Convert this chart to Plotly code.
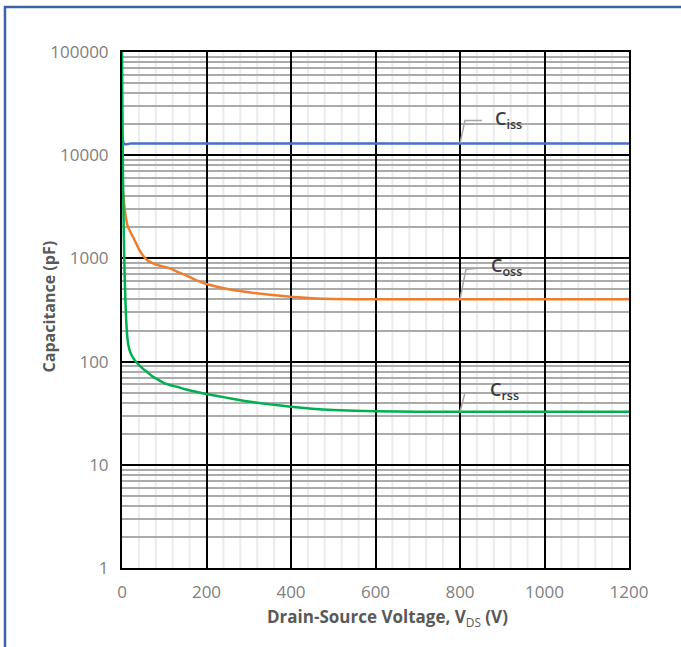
import math
import plotly.graph_objects as go

# Drain-source voltage (V) sample points
vds = [0, 2, 4, 6, 8, 10, 12, 15, 20, 30, 40, 50, 60, 70, 85, 100, 115, 130, 150,
       175, 200, 250, 300, 350, 400, 450, 500, 600, 700, 800, 900, 1000, 1100, 1200]

# Capacitances (pF)
ciss = [16000, 14000, 13000, 12800, 12750, 12750, 12800, 12850, 12950, 13000, 13000,
        13000, 13000, 13000, 13000, 13000, 13000, 13000, 13000, 13000, 13000, 13000,
        13000, 13000, 13000, 13000, 13000, 13000, 13000, 13000, 13000, 13000, 13000, 13000]
coss = [6000, 4600, 3700, 3100, 2700, 2400, 2150, 1980, 1800, 1500, 1230, 1060, 960,
        910, 860, 830, 795, 745, 690, 615, 565, 505, 470, 445, 425, 412, 405, 402,
        402, 402, 402, 402, 402, 402]
crss = [100000, 8000, 2000, 750, 400, 250, 185, 145, 122, 103, 93, 85, 79, 73, 67, 62,
        59, 57, 54, 51, 48.5, 44.5, 41, 38.5, 36.5, 35, 34, 33, 32.7, 32.7, 32.7, 32.7,
        32.7, 32.7]

x_ticks = [0, 200, 400, 600, 800, 1000, 1200]
y_ticks = [1, 10, 100, 1000, 10000, 100000]
y_tick_text = ["1", "10", "100", "1000", "10000", "100000"]

label_v = 800  # voltage where the series labels are attached

series = [
    ("C<sub>iss</sub>", ciss, "#4472C4", (48, 24), "M0,0 L5,23 L22,23"),
    ("C<sub>oss</sub>", coss, "#ED7D31", (46, 33), "M0,0 L6,30 L18,31"),
    ("C<sub>rss</sub>", crss, "#00B050", (44, 21), "M0,0 L5,19 L17,19"),
]

FONT = "Open Sans"

fig = go.Figure()

for name, vals, color, _, _ in series:
    fig.add_trace(go.Scatter(
        x=vds, y=vals, mode="lines", name=name,
        line=dict(color=color, width=2.5, shape="spline", smoothing=0.6),
        showlegend=False, hoverinfo="x+y",
    ))

# light vertical minor grid, drawn over the horizontal grid
for v in range(40, 1200, 40):
    if v % 200:
        fig.add_shape(type="line", xref="x", yref="paper", x0=v, x1=v, y0=0, y1=1,
                      line=dict(color="#ececec", width=2), layer="between")

# leader lines and labels
for name, vals, color, (dx, dy), path in series:
    yv = vals[vds.index(label_v)]
    fig.add_shape(type="path", xref="x", yref="y",
                  xsizemode="pixel", ysizemode="pixel",
                  xanchor=label_v, yanchor=yv, path=path,
                  line=dict(color="#a6a6a6", width=1.5), layer="above")
    fig.add_annotation(x=label_v, y=math.log10(yv), text=name, showarrow=False,
                       xshift=dx, yshift=dy,
                       font=dict(family=FONT, size=18, color="#3a3a3a", weight=600))

# axis titles
fig.add_annotation(xref="paper", yref="paper", x=0.523, y=-0.095,
                   text="<b>Drain-Source Voltage, V</b><sub>DS</sub><b> (V)</b>",
                   showarrow=False, yanchor="middle",
                   font=dict(family=FONT, size=17, color="#595959"))
fig.add_annotation(xref="paper", yref="paper", x=-0.144, y=0.507,
                   text="<b>Capacitance (pF)</b>", textangle=-90,
                   showarrow=False, xanchor="center", yanchor="middle",
                   font=dict(family=FONT, size=16, color="#595959"))

# outer frame
fig.add_shape(type="rect", xref="paper", yref="paper",
              x0=-0.2308, x1=1.13, y0=-0.19, y1=1.0873,
              line=dict(color="#3B64A6", width=2.5), fillcolor="rgba(0,0,0,0)",
              layer="above")

fig.update_layout(
    width=681, height=647,
    margin=dict(l=122, r=52, t=52, b=79),
    paper_bgcolor="white", plot_bgcolor="white",
    font=dict(family=FONT, color="#7f7f7f"),
    xaxis=dict(
        range=[0, 1200], tickvals=x_ticks, ticks="", showgrid=True,
        gridcolor="black", gridwidth=2, zeroline=False,
        showline=True, linecolor="black", linewidth=2, mirror=True,
        ticklabelstandoff=8,
        tickfont=dict(size=17, color="#808080"),
    ),
    yaxis=dict(
        type="log", range=[0, 5], tickvals=y_ticks, ticktext=y_tick_text, ticks="",
        showgrid=True, gridcolor="black", gridwidth=2, zeroline=False,
        showline=True, linecolor="black", linewidth=2, mirror=True,
        minor=dict(dtick="D1", showgrid=True, gridcolor="#ababab", gridwidth=1.8,
                   ticks=""),
        ticklabelstandoff=8,
        tickfont=dict(size=17, color="#808080"),
    ),
)

fig.write_html("out.html")
